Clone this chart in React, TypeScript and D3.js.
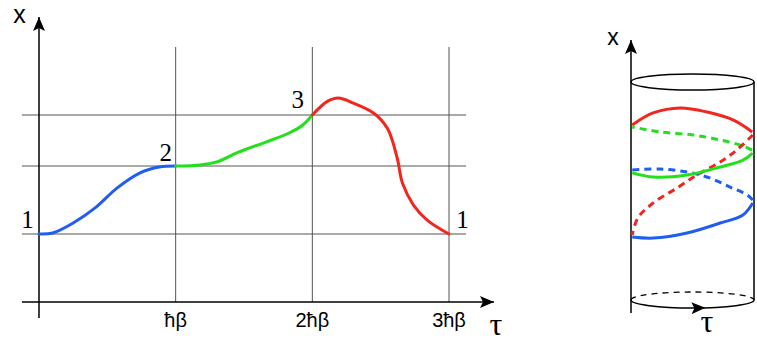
import * as React from "react";
import * as d3 from "d3";

// left plot: path through the three points, tau in units of hbar*beta
const tauTicks = [1, 2, 3];
const tauTickLabels = ["ħβ", "2ħβ", "3ħβ"];
const gridLevels = [4, 8, 11];

const blueTau = [0, 0.1, 0.25, 0.42, 0.57, 0.74, 0.88, 1];
const blueX = [4, 4.06, 4.65, 5.6, 6.7, 7.6, 7.94, 8];
const greenTau = [1, 1.18, 1.3, 1.46, 1.66, 1.83, 1.93, 2];
const greenX = [8, 8.06, 8.24, 8.82, 9.41, 9.94, 10.41, 11];
const redTau = [2, 2.11, 2.19, 2.3, 2.45, 2.55, 2.62, 2.66, 2.74, 2.84, 3];
const redX = [11, 11.8, 12, 11.7, 11.1, 10.2, 8.5, 6.98, 5.7, 4.82, 4];

const pointLabels = ["1", "2", "3", "1"];
const pointTau = [0, 1, 2, 3];
const pointX = [4, 8, 11, 4];

// right plot: same path wrapped on a cylinder (u across the face, h height)
const blueFrontU = [-0.98, -0.64, -0.09, 0.45, 0.82, 0.98];
const blueFrontH = [2.89, 2.84, 3.07, 3.53, 3.9, 4.45];
const blueBackU = [0.98, 0.89, 0.61, 0.28, -0.09, -0.53, -0.98];
const blueBackH = [4.59, 4.82, 5.18, 5.6, 5.87, 6.01, 5.96];
const greenFrontU = [-0.98, -0.64, -0.09, 0.45, 0.82, 0.98];
const greenFrontH = [5.83, 5.64, 5.73, 6.1, 6.42, 6.74];
const greenBackU = [0.97, 0.77, 0.45, 0.01, -0.53, -0.98];
const greenBackH = [6.88, 7.11, 7.34, 7.57, 7.71, 7.94];
const redFrontU = [-0.98, -0.64, -0.2, 0.24, 0.66, 0.97];
const redFrontH = [8.03, 8.58, 8.81, 8.62, 8.26, 7.71];
const redBackU = [0.98, 0.72, 0.45, 0.07, -0.25, -0.64, -0.89, -0.98];
const redBackH = [7.57, 6.88, 6.33, 5.73, 5.14, 4.45, 3.76, 2.98];

const BLUE = "#1f5ef0";
const GREEN = "#22e01c";
const RED = "#f2261c";

const zip = (a: number[], b: number[]) => a.map((v, i) => [v, b[i]] as [number, number]);

export default function App() {
  const ref = React.useRef<SVGSVGElement>(null);

  React.useEffect(() => {
    const svg = d3.select(ref.current);
    svg.selectAll("*").remove();

    const defs = svg.append("defs");
    defs.append("marker")
      .attr("id", "arrow")
      .attr("viewBox", "0 0 14 12")
      .attr("refX", 14).attr("refY", 6)
      .attr("markerWidth", 14).attr("markerHeight", 12)
      .attr("markerUnits", "userSpaceOnUse")
      .attr("orient", "auto")
      .append("path").attr("d", "M0,0 L14,6 L0,12 L3,6 Z").attr("fill", "#000");

    // ----- left chart -----
    const x = d3.scaleLinear().domain([0, 3]).range([39, 449]);
    const y = d3.scaleLinear().domain([0, 15]).range([302, 47]);

    const g = svg.append("g");

    g.selectAll(".vgrid").data(tauTicks).enter().append("line")
      .attr("x1", d => x(d)).attr("x2", d => x(d))
      .attr("y1", y(15)).attr("y2", y(0))
      .attr("stroke", "#555").attr("stroke-width", 1);

    g.selectAll(".hgrid").data(gridLevels).enter().append("line")
      .attr("x1", x(-0.125)).attr("x2", x(3.125))
      .attr("y1", d => y(d)).attr("y2", d => y(d))
      .attr("stroke", "#555").attr("stroke-width", 1);

    // axes
    g.append("line")
      .attr("x1", x(-0.125)).attr("x2", 494)
      .attr("y1", y(0)).attr("y2", y(0))
      .attr("stroke", "#000").attr("stroke-width", 1.5)
      .attr("marker-end", "url(#arrow)");
    g.append("line")
      .attr("x1", x(0)).attr("x2", x(0))
      .attr("y1", 318).attr("y2", 17)
      .attr("stroke", "#000").attr("stroke-width", 1.5)
      .attr("marker-end", "url(#arrow)");

    g.selectAll(".tick").data(tauTicks).enter().append("text")
      .attr("x", d => x(d)).attr("y", 327)
      .attr("text-anchor", "middle")
      .attr("font-family", "Liberation Sans, sans-serif")
      .attr("font-size", 20)
      .text((d, i) => tauTickLabels[i]);

    g.append("text").attr("x", 19.5).attr("y", 23)
      .attr("text-anchor", "middle")
      .attr("font-family", "Liberation Sans, sans-serif").attr("font-size", 25)
      .text("x");
    g.append("text").attr("x", 496).attr("y", 335)
      .attr("text-anchor", "middle")
      .attr("font-family", "Liberation Serif, serif").attr("font-size", 32)
      .text("τ");

    const line = d3.line<[number, number]>()
      .x(d => x(d[0])).y(d => y(d[1]))
      .curve(d3.curveCatmullRom.alpha(0.5));

    [[blueTau, blueX, BLUE], [greenTau, greenX, GREEN], [redTau, redX, RED]].forEach(([t, v, c]) => {
      g.append("path")
        .attr("d", line(zip(t as number[], v as number[])))
        .attr("fill", "none").attr("stroke", c as string)
        .attr("stroke-width", 3).attr("stroke-linecap", "round");
    });

    const labelDx = [-11.5, -10, -14.5, 13.5];
    const labelDy = [-6, -5, -7, -6];
    g.selectAll(".plabel").data(pointLabels).enter().append("text")
      .attr("x", (d, i) => x(pointTau[i]) + labelDx[i])
      .attr("y", (d, i) => y(pointX[i]) + labelDy[i])
      .attr("text-anchor", "middle")
      .attr("font-family", "Liberation Serif, serif").attr("font-size", 25)
      .text(d => d);

    // ----- right chart: cylinder -----
    const u = d3.scaleLinear().domain([-1, 1]).range([631, 754]);
    const h = d3.scaleLinear().domain([0, 10]).range([300, 82]);
    const rx = (u(1) - u(-1)) / 2, ry = 8, cx = u(0);
    const c = svg.append("g");

    c.append("ellipse")
      .attr("cx", cx).attr("cy", h(10)).attr("rx", rx).attr("ry", ry)
      .attr("fill", "none").attr("stroke", "#000").attr("stroke-width", 1.5);
    c.append("line")
      .attr("x1", u(1)).attr("x2", u(1)).attr("y1", h(10)).attr("y2", h(0))
      .attr("stroke", "#000").attr("stroke-width", 1.5);
    c.append("line")
      .attr("x1", u(-1)).attr("x2", u(-1)).attr("y1", 313).attr("y2", 40)
      .attr("stroke", "#000").attr("stroke-width", 1.5)
      .attr("marker-end", "url(#arrow)");
    // bottom: dashed back half, solid front half with arrow
    c.append("path")
      .attr("d", `M${u(-1)},${h(0)} A${rx},${ry} 0 0 1 ${u(1)},${h(0)}`)
      .attr("fill", "none").attr("stroke", "#000").attr("stroke-width", 1.3)
      .attr("stroke-dasharray", "6,5");
    c.append("path")
      .attr("d", `M${u(-1)},${h(0)} A${rx},${ry} 0 0 0 ${u(1)},${h(0)}`)
      .attr("fill", "none").attr("stroke", "#000").attr("stroke-width", 1.5);
    c.append("path")
      .attr("d", `M${u(-1)},${h(0)} A${rx},${ry} 0 0 0 ${u(0.21)},${h(0) + ry * 0.98}`)
      .attr("fill", "none").attr("stroke", "none")
      .attr("marker-end", "url(#arrow)");

    c.append("text").attr("x", 613).attr("y", 45)
      .attr("text-anchor", "middle")
      .attr("font-family", "Liberation Sans, sans-serif").attr("font-size", 23)
      .text("x");
    c.append("text").attr("x", 707).attr("y", 332)
      .attr("text-anchor", "middle")
      .attr("font-family", "Liberation Serif, serif").attr("font-size", 32)
      .text("τ");

    const cl = d3.line<[number, number]>()
      .x(d => u(d[0])).y(d => h(d[1]))
      .curve(d3.curveCatmullRom.alpha(0.5));

    const segs: [number[], number[], string, boolean][] = [
      [blueBackU, blueBackH, BLUE, true],
      [greenBackU, greenBackH, GREEN, true],
      [redBackU, redBackH, RED, true],
      [blueFrontU, blueFrontH, BLUE, false],
      [greenFrontU, greenFrontH, GREEN, false],
      [redFrontU, redFrontH, RED, false],
    ];
    segs.forEach(([a, b, col, dashed]) => {
      c.append("path")
        .attr("d", cl(zip(a, b)))
        .attr("fill", "none").attr("stroke", col)
        .attr("stroke-width", 3)
        .attr("stroke-dasharray", dashed ? "7,5" : null);
    });
  }, []);

  return (
    <svg ref={ref} width={757} height={341}
      style={{ position: "absolute", left: 0, top: 0, background: "#fff" }} />
  );
}
